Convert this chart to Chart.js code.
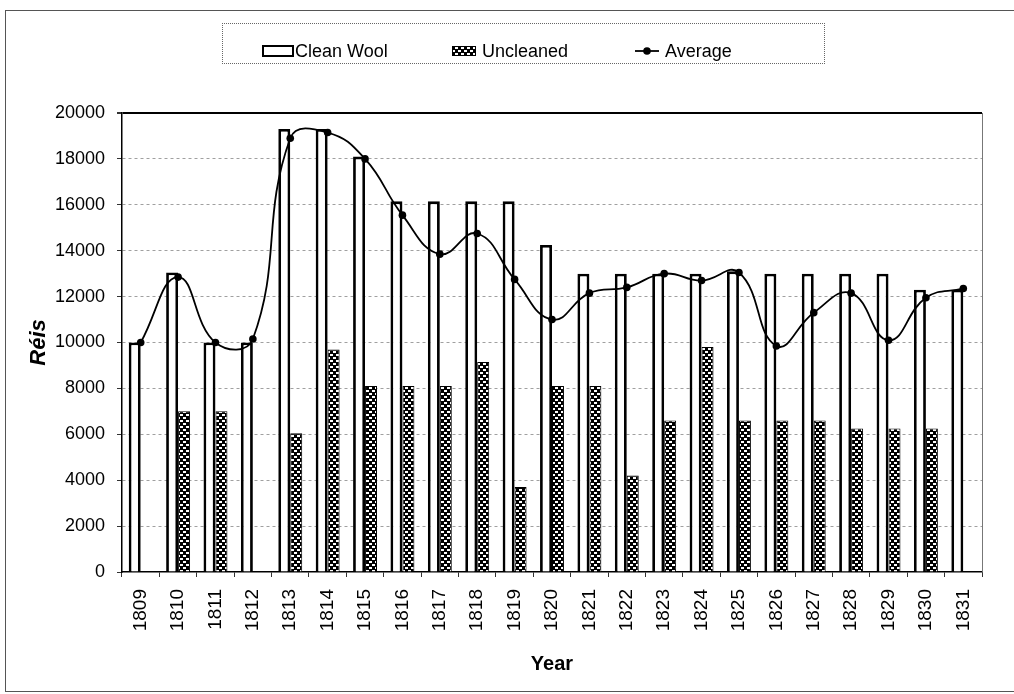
<!DOCTYPE html>
<html>
<head>
<meta charset="utf-8">
<script src="https://cdn.jsdelivr.net/npm/chart.js@4.4.1/dist/chart.umd.min.js"></script>
<style>
html, body { margin: 0; padding: 0; background: #fff; }
#wrap { position: relative; width: 1014px; height: 694px; overflow: hidden; font-family: "Liberation Sans", Arial, sans-serif; }
#frame { position: absolute; left: 5px; top: 10px; width: 1030px; height: 682px; border: 1.5px solid #555; box-sizing: border-box; }
#legend { position: absolute; left: 222px; top: 23px; width: 603px; height: 41px; border: 1px dotted #666; box-sizing: border-box; }
#legend .item { position: absolute; top: 17px; height: 20px; display: flex; align-items: center; font-size: 18px; color: #000; white-space: nowrap; }
#legend canvas { margin-right: 6px; }
#chartBox { position: absolute; left: 0; top: 0; width: 1014px; height: 694px; }
</style>
</head>
<body>
<div id="wrap">
  <div id="frame"></div>
  <div id="chartBox"><canvas id="grafico"></canvas></div>
  <div id="legend"></div>
</div>
<script>
const years = ["1809", "1810", "1811", "1812", "1813", "1814", "1815", "1816", "1817", "1818", "1819", "1820",
               "1821", "1822", "1823", "1824", "1825", "1826", "1827", "1828", "1829", "1830", "1831"];
const cleanWool = [10000, 13050, 10000, 10000, 19300, 19300, 18100, 16150, 16150, 16150, 16150, 14250,
                   13000, 13000, 13000, 13000, 13100, 13000, 13000, 13000, 13000, 12300, 12300];
const uncleaned = [null, 7000, 7000, null, 6050, 9700, 8100, 8100, 8100, 9150, 3700, 8100,
                   8100, 4200, 6600, 9800, 6600, 6600, 6600, 6250, 6250, 6250, null];
const average = [10000, 12850, 10000, 10150, 18900, 19150, 18000, 15550, 13850, 14750, 12750, 11000,
                 12150, 12400, 13000, 12700, 13050, 9850, 11300, 12150, 10100, 11950, 12350];

const fuente = '"Liberation Sans", Arial, sans-serif';

// black tile with white blotches, like the scanned "Uncleaned" fill
function crearTrama() {
    const c = document.createElement("canvas");
    c.width = 6; c.height = 6;
    const g = c.getContext("2d");
    g.fillStyle = "#000";
    g.fillRect(0, 0, 6, 6);
    g.fillStyle = "#fff";
    g.fillRect(0, 0, 3, 2);
    g.fillRect(3, 3, 3, 2);
    return g.createPattern(c, "repeat");
}
const trama = crearTrama();

const marcoPlugin = {
    id: "marco",
    afterDatasetsDraw(chart) {
        const { ctx, chartArea: a } = chart;
        ctx.save();
        ctx.strokeStyle = "#777";
        ctx.lineWidth = 1;
        ctx.beginPath();
        ctx.moveTo(a.right + 0.5, a.top);
        ctx.lineTo(a.right + 0.5, a.bottom);
        ctx.stroke();
        ctx.restore();
    }
};

const chart = new Chart(document.getElementById("grafico"), {
    data: {
        labels: years,
        datasets: [
            {
                type: "line",
                label: "Average",
                data: average,
                borderColor: "#000",
                backgroundColor: "#000",
                borderWidth: 1.8,
                pointRadius: 3.8,
                pointBackgroundColor: "#000",
                pointBorderWidth: 0,
                tension: 0.45,
                order: 0
            },
            {
                type: "bar",
                label: "Clean Wool",
                data: cleanWool,
                backgroundColor: "#fff",
                borderColor: "#000",
                borderWidth: 2.8,
                barPercentage: 1,
                categoryPercentage: 0.64,
                order: 1
            },
            {
                type: "bar",
                label: "Uncleaned",
                data: uncleaned,
                backgroundColor: trama,
                borderColor: "#000",
                borderWidth: 1,
                barPercentage: 1,
                categoryPercentage: 0.64,
                order: 1
            }
        ]
    },
    options: {
        responsive: true,
        maintainAspectRatio: false,
        animation: false,
        layout: { padding: { top: 113, right: 32, bottom: 0, left: 0 } },
        plugins: {
            legend: { display: false },
            tooltip: { enabled: false }
        },
        scales: {
            x: {
                afterFit: s => { s.height = 122; },
                grid: { drawOnChartArea: false, drawTicks: true, tickLength: 5, tickColor: "#333", offset: true },
                border: { color: "#000", width: 1.5 },
                ticks: {
                    color: "#000",
                    font: { family: fuente, size: 19 },
                    minRotation: 90,
                    maxRotation: 90,
                    padding: 12,
                    autoSkip: false
                },
                title: {
                    display: true,
                    text: "Year",
                    color: "#000",
                    font: { family: fuente, size: 20, weight: "bold" },
                    padding: { top: 0, bottom: 18 }
                }
            },
            y: {
                min: 0,
                max: 20000,
                afterFit: s => { s.width = 122; },
                ticks: {
                    stepSize: 2000,
                    color: "#000",
                    font: { family: fuente, size: 18 },
                    padding: 12,
                    callback: v => String(v)
                },
                grid: {
                    color: c => c.tick && c.tick.value === 0 ? "rgba(0,0,0,0)" : (c.tick && c.tick.value === 20000 ? "#000" : "#a0a0a0"),
                    lineWidth: c => c.tick && c.tick.value === 20000 ? 2 : 1,
                    tickColor: "#333",
                    tickLength: 5
                },
                border: {
                    color: "#000",
                    width: 1.5,
                    dash: c => c.tick && c.tick.value === 20000 ? [] : [3, 3]
                },
                title: {
                    display: true,
                    text: "Réis",
                    color: "#000",
                    font: { family: fuente, size: 22, weight: "bold", style: "italic" },
                    padding: { top: 26, bottom: 0 }
                }
            }
        }
    },
    plugins: [marcoPlugin]
});

// legend in a dotted box, built from the chart's datasets
function simbolo(ds) {
    const c = document.createElement("canvas");
    const g = c.getContext("2d");
    if (ds.label === "Clean Wool") {
        c.width = 32; c.height = 14;
        g.fillStyle = "#fff";
        g.fillRect(1, 2, 30, 10);
        g.strokeStyle = "#000";
        g.lineWidth = 2;
        g.strokeRect(1, 2, 30, 10);
    } else if (ds.label === "Uncleaned") {
        c.width = 24; c.height = 14;
        g.fillStyle = trama;
        g.fillRect(0, 2, 24, 10);
        g.strokeStyle = "#000";
        g.lineWidth = 1;
        g.strokeRect(0.5, 2.5, 23, 9);
    } else {
        c.width = 24; c.height = 14;
        g.strokeStyle = "#000";
        g.lineWidth = 1.8;
        g.beginPath();
        g.moveTo(0, 7);
        g.lineTo(24, 7);
        g.stroke();
        g.fillStyle = "#000";
        g.beginPath();
        g.arc(12, 7, 3.8, 0, Math.PI * 2);
        g.fill();
    }
    return c;
}

const ordenLeyenda = ["Clean Wool", "Uncleaned", "Average"];
const posLeyenda = [39, 229, 412];
const leyenda = document.getElementById("legend");
ordenLeyenda.forEach((nombre, i) => {
    const ds = chart.data.datasets.find(d => d.label === nombre);
    const item = document.createElement("div");
    item.className = "item";
    item.style.left = posLeyenda[i] + "px";
    const cv = simbolo(ds);
    if (nombre === "Clean Wool") cv.style.marginRight = "1px";
    item.appendChild(cv);
    const span = document.createElement("span");
    span.textContent = ds.label;
    item.appendChild(span);
    leyenda.appendChild(item);
});
</script>
</body>
</html>
